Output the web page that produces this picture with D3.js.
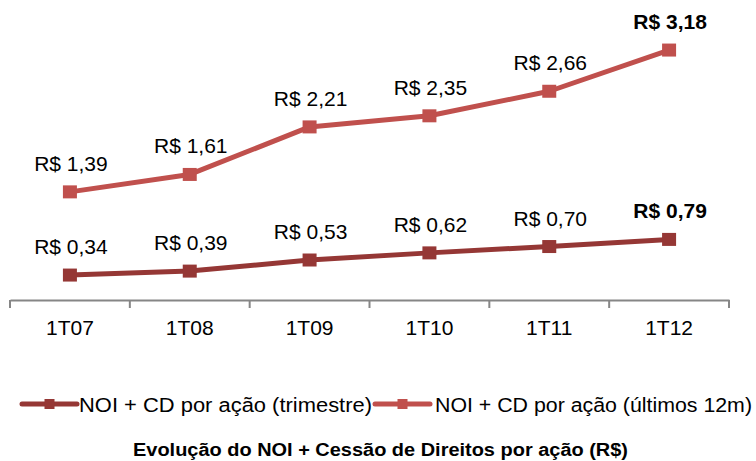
<!DOCTYPE html>
<html>
<head>
<meta charset="utf-8">
<script src="https://cdn.jsdelivr.net/npm/d3@7"></script>
<style>
  html, body { margin: 0; padding: 0; background: #fff; }
  svg { display: block; font-family: "Liberation Sans", Arial, sans-serif; }
</style>
</head>
<body>
<svg id="chart" width="756" height="461"></svg>
<script>
// Quarters on the x axis
const periods = ["1T07", "1T08", "1T09", "1T10", "1T11", "1T12"];
// NOI + CD per share, quarter
const quarterly = [0.34, 0.39, 0.53, 0.62, 0.70, 0.79];
// NOI + CD per share, last 12 months
const trailing12m = [1.39, 1.61, 2.21, 2.35, 2.66, 3.18];
const seriesNames = ["NOI + CD por ação (trimestre)", "NOI + CD por ação (últimos 12m)"];
const seriesColors = ["#953735", "#C0504D"];
const title = "Evolução do NOI + Cessão de Direitos por ação (R$)";

const svg = d3.select("#chart");
const fmt = v => "R$ " + d3.format(".2f")(v).replace(".", ",");

const x = d3.scaleBand().domain(periods).range([10, 729]);
const y = d3.scaleLinear().domain([0, 3.5]).range([302, 24.7]);
const cx = p => x(p) + x.bandwidth() / 2;

// Category axis
const axis = d3.axisBottom(x).tickSize(0).tickPadding(0);
const gAxis = svg.append("g").attr("transform", "translate(0,300)").call(axis);
gAxis.select(".domain").attr("stroke", "#868686").attr("stroke-width", 2);
gAxis.selectAll(".tick text")
  .attr("font-size", 21).attr("fill", "#000")
  .attr("font-family", "Liberation Sans, Arial, sans-serif")
  .attr("dy", null).attr("y", 35);
// Tick marks sit on the band boundaries
const bounds = periods.map(p => x(p)).concat([x.range()[1]]);
gAxis.selectAll("line.bound").data(bounds).enter().append("line")
  .attr("class", "bound")
  .attr("x1", d => d).attr("x2", d => d)
  .attr("y1", 0).attr("y2", 8)
  .attr("stroke", "#868686").attr("stroke-width", 2);

const series = [trailing12m, quarterly];
const colorOf = [seriesColors[1], seriesColors[0]];
const line = d3.line().x((d, i) => cx(periods[i])).y(d => y(d));

series.forEach((vals, s) => {
  const g = svg.append("g");
  g.append("path").datum(vals)
    .attr("d", line).attr("fill", "none")
    .attr("stroke", colorOf[s]).attr("stroke-width", 5)
    .attr("stroke-linejoin", "round");
  g.selectAll("rect").data(vals).enter().append("rect")
    .attr("x", (d, i) => cx(periods[i]) - 7)
    .attr("y", d => y(d) - 6.5)
    .attr("width", 14).attr("height", 13)
    .attr("fill", colorOf[s]);
  g.selectAll("text").data(vals).enter().append("text")
    .attr("x", (d, i) => cx(periods[i]) + 1)
    .attr("y", d => y(d) - 21)
    .attr("text-anchor", "middle")
    .attr("font-size", 21)
    .attr("font-weight", (d, i) => i === vals.length - 1 ? "bold" : "normal")
    .attr("fill", "#000")
    .text(d => fmt(d));
});

// Legend
const legend = [
  { name: seriesNames[0], color: seriesColors[0], x0: 22, x1: 77, tx: 79, tw: 293 },
  { name: seriesNames[1], color: seriesColors[1], x0: 375, x1: 430, tx: 435, tw: 317 }
];
const lg = svg.append("g");
legend.forEach(l => {
  lg.append("line").attr("x1", l.x0).attr("x2", l.x1).attr("y1", 404).attr("y2", 404)
    .attr("stroke", l.color).attr("stroke-width", 5).attr("stroke-linecap", "round");
  lg.append("rect").attr("x", (l.x0 + l.x1) / 2 - 5).attr("y", 399)
    .attr("width", 10).attr("height", 10).attr("fill", l.color);
  lg.append("text").attr("x", l.tx).attr("y", 412)
    .attr("font-size", 20).attr("fill", "#000")
    .attr("textLength", l.tw).attr("lengthAdjust", "spacingAndGlyphs")
    .text(l.name);
});

// Title
svg.append("text").attr("x", 133).attr("y", 456)
  .attr("font-size", 18).attr("font-weight", "bold").attr("fill", "#000")
  .attr("textLength", 495).attr("lengthAdjust", "spacingAndGlyphs")
  .text(title);
</script>
</body>
</html>
